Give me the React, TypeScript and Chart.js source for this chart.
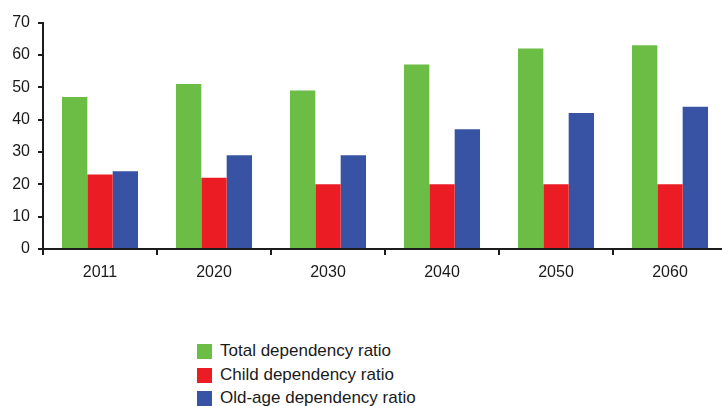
import React, { useEffect, useRef } from "react";
import { Chart, registerables } from "chart.js";

Chart.register(...registerables);

const years = ["2011", "2020", "2030", "2040", "2050", "2060"];
const totalRatio = [47, 51, 49, 57, 62, 63];
const childRatio = [23, 22, 20, 20, 20, 20];
const oldAgeRatio = [24, 29, 29, 37, 42, 44];

const seriesNames = [
  "Total dependency ratio",
  "Child dependency ratio",
  "Old-age dependency ratio",
];
const seriesColors = ["#6bbd45", "#ec1c24", "#3853a3"];

const FONT = "'Liberation Sans', Arial, Helvetica, sans-serif";
const AXIS_COLOR = "#1c1c1c";

export default function App() {
  const canvasRef = useRef<HTMLCanvasElement | null>(null);

  useEffect(() => {
    const canvas = canvasRef.current;
    if (!canvas) return;
    const values = [totalRatio, childRatio, oldAgeRatio];
    const chart = new Chart(canvas, {
      type: "bar",
      data: {
        labels: years,
        datasets: seriesNames.map((name, i) => ({
          label: name,
          data: values[i],
          backgroundColor: seriesColors[i],
          borderWidth: 0,
          categoryPercentage: 0.667,
          barPercentage: 1.0,
        })),
      },
      options: {
        animation: false,
        responsive: false,
        maintainAspectRatio: false,
        layout: { padding: { left: 0, right: 1, top: 22.5, bottom: 8 } },
        plugins: {
          legend: { display: false },
          tooltip: { enabled: false },
        },
        scales: {
          x: {
            grid: {
              display: true,
              drawOnChartArea: false,
              drawTicks: true,
              tickLength: 6,
              color: AXIS_COLOR,
              lineWidth: 2,
            },
            border: { display: true, color: AXIS_COLOR, width: 2 },
            ticks: {
              color: "#1a1a1a",
              font: { family: FONT, size: 16 },
              padding: 8,
              maxRotation: 0,
            },
            afterFit: (scale: any) => {
              scale.height = 43;
            },
          },
          y: {
            min: 0,
            max: 70,
            grid: {
              display: true,
              drawOnChartArea: false,
              drawTicks: true,
              tickLength: 5,
              color: AXIS_COLOR,
              lineWidth: 2,
            },
            border: { display: true, color: AXIS_COLOR, width: 2 },
            ticks: {
              stepSize: 10,
              color: "#1a1a1a",
              font: { family: FONT, size: 16 },
              padding: 8,
            },
            afterFit: (scale: any) => {
              scale.width = 43;
            },
          },
        },
      },
    });
    return () => chart.destroy();
  }, []);

  return (
    <div
      style={{
        position: "fixed",
        left: 0,
        top: 0,
        width: 722,
        height: 406,
        overflow: "hidden",
        background: "#ffffff",
      }}
    >
      <canvas
        ref={canvasRef}
        width={728}
        height={300}
        style={{ position: "absolute", left: 0, top: 0, width: 728, height: 300 }}
      />
      <div
        style={{
          position: "absolute",
          left: 197,
          top: 344,
          fontFamily: FONT,
          fontSize: 17,
          color: "#1a1a1a",
        }}
      >
        {seriesNames.map((name, i) => (
          <div
            key={name}
            style={{
              display: "flex",
              alignItems: "center",
              height: 15,
              marginBottom: 8.5,
              whiteSpace: "nowrap",
            }}
          >
            <span
              style={{
                display: "inline-block",
                width: 15,
                height: 15,
                background: seriesColors[i],
                marginRight: 8,
              }}
            />
            <span style={{ lineHeight: "15px", position: "relative", top: -1 }}>{name}</span>
          </div>
        ))}
      </div>
    </div>
  );
}
